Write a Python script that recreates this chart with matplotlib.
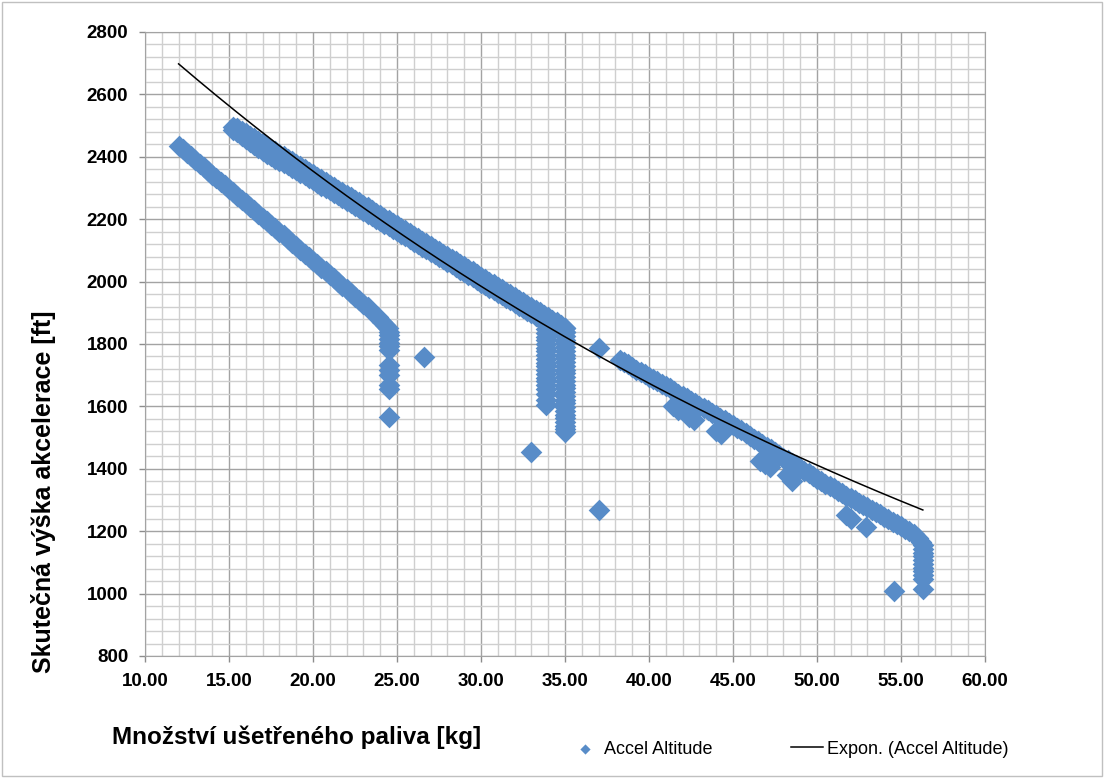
import numpy as np
import matplotlib
matplotlib.use("Agg")
import matplotlib.pyplot as plt
from matplotlib.ticker import MultipleLocator, FormatStrFormatter
from matplotlib.patches import Rectangle

plt.rcParams['font.family'] = ['Liberation Sans', 'DejaVu Sans']

# lower band (left)
lower_x = [12.00, 12.25, 12.50, 12.75, 13.00, 13.25, 13.50, 13.75, 14.00, 14.25, 14.50, 14.75,
           15.00, 15.25, 15.50, 15.75, 16.00, 16.25, 16.50, 16.75, 17.00, 17.25, 17.50, 17.75,
           18.00, 18.25, 18.50, 18.75, 19.00, 19.25, 19.50, 19.75, 20.00, 20.25, 20.50, 20.75,
           21.00, 21.25, 21.50, 21.75, 22.00, 22.25, 22.50, 22.75, 23.00, 23.25, 23.60, 23.85,
           24.10, 24.30, 24.45]
lower_y = [2435, 2424, 2412, 2401, 2390, 2378, 2366, 2355, 2343, 2332, 2320, 2309,
           2297, 2286, 2274, 2263, 2251, 2240, 2228, 2217, 2205, 2194, 2182, 2171,
           2159, 2148, 2136, 2125, 2113, 2102, 2090, 2079, 2067, 2056, 2044, 2033,
           2021, 2010, 1998, 1987, 1975, 1964, 1952, 1941, 1929, 1918, 1898, 1885,
           1872, 1860, 1850]
# drop at ~24.55 kg
col24_y = [1840, 1828, 1816, 1804, 1792, 1780, 1733, 1716, 1700, 1670, 1655, 1566]

# upper band, two rows of points
upper_x = [15.25, 15.50, 15.75, 16.00, 16.25, 16.50, 16.75, 17.00, 17.25, 17.50, 17.75, 18.00,
           18.25, 18.50, 18.75, 19.00, 19.25, 19.50, 19.75, 20.00, 20.25, 20.50, 20.75, 21.00,
           21.25, 21.50, 21.75, 22.00, 22.25, 22.50, 22.75, 23.00, 23.25, 23.50, 23.75, 24.00,
           24.25, 24.50, 24.75, 25.00, 25.25, 25.50, 25.75, 26.00, 26.25, 26.50, 26.75, 27.00,
           27.25, 27.50, 27.75, 28.00, 28.25, 28.50, 28.75, 29.00, 29.25, 29.50, 29.75, 30.00,
           30.25, 30.50, 30.75, 31.00, 31.25, 31.50, 31.75, 32.00, 32.25, 32.50, 32.75, 33.00,
           33.25, 33.50, 33.75, 34.00, 34.25, 34.50, 34.75, 35.00]
upper_top_y = [2497, 2492, 2484, 2475, 2467, 2459, 2451, 2443, 2434, 2426, 2418, 2410,
               2402, 2393, 2385, 2377, 2369, 2361, 2352, 2344, 2336, 2328, 2320, 2311,
               2303, 2295, 2287, 2279, 2270, 2262, 2254, 2246, 2238, 2229, 2221, 2213,
               2205, 2197, 2188, 2180, 2172, 2164, 2156, 2147, 2139, 2131, 2123, 2115,
               2106, 2098, 2090, 2082, 2074, 2065, 2057, 2049, 2041, 2033, 2024, 2016,
               2008, 2000, 1992, 1983, 1975, 1967, 1959, 1951, 1942, 1934, 1926, 1918,
               1910, 1901, 1893, 1885, 1877, 1869, 1860, 1852]
upper_bot_y = [2486, 2478, 2468, 2457, 2447, 2437, 2428, 2419, 2410, 2402, 2394, 2388,
               2381, 2373, 2365, 2357, 2349, 2341, 2333, 2325, 2316, 2308, 2300, 2292,
               2284, 2276, 2267, 2259, 2251, 2243, 2235, 2227, 2218, 2210, 2202, 2194,
               2186, 2178, 2169, 2161, 2153, 2145, 2137, 2128, 2120, 2112, 2104, 2096,
               2087, 2079, 2071, 2063, 2055, 2046, 2038, 2030, 2022, 2014, 2005, 1997,
               1989, 1981, 1973, 1964, 1956, 1948, 1940, 1932, 1923, 1915, 1907, 1899,
               1891, 1882, 1874, 1866, 1860, 1852, 1846, 1840]

# vertical drops at ~33.9 and ~35.0 kg
col34_y = [1860, 1848, 1836, 1824, 1812, 1800, 1788, 1776, 1764, 1752, 1740, 1728, 1716,
           1704, 1692, 1680, 1668, 1656, 1640, 1622, 1605]
col35_y = [1850, 1838, 1826, 1814, 1802, 1790, 1778, 1766, 1754, 1742, 1730, 1718, 1706,
           1694, 1682, 1670, 1658, 1646, 1634, 1622, 1610, 1598, 1586, 1574, 1562, 1550,
           1538, 1526, 1518]

# right band
right_x = [38.25, 38.50, 38.75, 39.00, 39.25, 39.50, 39.75, 40.00, 40.25, 40.50, 40.75, 41.00,
           41.25, 41.50, 41.75, 42.00, 42.25, 42.50, 42.75, 43.00, 43.25, 43.50, 43.75, 44.00,
           44.25, 44.50, 44.75, 45.00, 45.25, 45.50, 45.75, 46.00, 46.25, 46.50, 46.75, 47.00,
           47.25, 47.50, 47.75, 48.00, 48.25, 48.50, 48.75, 49.00, 49.25, 49.50, 49.75, 50.00,
           50.25, 50.50, 50.75, 51.00, 51.25, 51.50, 51.75, 52.00, 52.25, 52.50, 52.75, 53.00,
           53.25, 53.50, 53.75, 54.00, 54.25, 54.50, 54.75, 55.00, 55.25, 55.50, 55.75, 56.00,
           56.20]
right_y = [1750, 1742, 1735, 1726, 1718, 1710, 1703, 1695, 1688, 1680, 1673, 1665,
           1658, 1650, 1641, 1633, 1626, 1618, 1610, 1602, 1595, 1587, 1579, 1571,
           1564, 1556, 1548, 1540, 1531, 1523, 1514, 1505, 1497, 1488, 1479, 1470,
           1462, 1453, 1445, 1436, 1428, 1419, 1411, 1402, 1394, 1385, 1377, 1368,
           1360, 1352, 1345, 1337, 1329, 1321, 1314, 1306, 1299, 1291, 1284, 1276,
           1269, 1261, 1254, 1246, 1239, 1231, 1224, 1216, 1208, 1200, 1190, 1178,
           1165]
right_low_x = [41.4, 41.7, 42.4, 42.7, 44.0, 44.3, 46.6, 46.9, 47.2, 48.2, 48.5, 51.7, 52.0, 52.9]
right_low_y = [1600, 1590, 1565, 1555, 1522, 1510, 1425, 1415, 1405, 1380, 1362, 1252, 1240, 1213]
# drop at ~56.3 kg
col56_y = [1155, 1143, 1131, 1119, 1107, 1095, 1083, 1071, 1059, 1047, 1015]

# single outliers
out_x = [26.6, 33.0, 37.0, 37.0, 54.6]
out_y = [1757, 1455, 1788, 1268, 1008]

# Excel exponential trendline y = a*exp(b*x)
trend_a = 3310
trend_b = -0.017042

xs = (lower_x + [24.55] * len(col24_y) + upper_x + upper_x + [33.85] * len(col34_y)
      + [35.0] * len(col35_y) + right_x + right_low_x + [56.3] * len(col56_y) + out_x)
ys = (lower_y + col24_y + upper_top_y + upper_bot_y + col34_y + col35_y
      + right_y + right_low_y + col56_y + out_y)
xs = np.array(xs)
ys = np.array(ys)

fig = plt.figure(figsize=(11.04, 7.78), dpi=100)
ax = fig.add_axes([145 / 1104, 122 / 778, 840 / 1104, 624 / 778])

ax.scatter(xs, ys, marker='D', s=122, color='#588cc8', linewidths=0, zorder=3,
           label='Accel Altitude')

tx = np.linspace(xs.min(), xs.max(), 200)
ax.plot(tx, trend_a * np.exp(trend_b * tx), color='black', lw=1.1, zorder=4,
        label='Expon. (Accel Altitude)')

ax.set_xlim(10, 60)
ax.set_ylim(800, 2800)
ax.xaxis.set_major_locator(MultipleLocator(5))
ax.xaxis.set_minor_locator(MultipleLocator(1))
ax.yaxis.set_major_locator(MultipleLocator(200))
ax.yaxis.set_minor_locator(MultipleLocator(40))
ax.xaxis.set_major_formatter(FormatStrFormatter('%.2f'))

ax.grid(which='major', color='#a3a3a3', lw=1.0, zorder=0)
ax.grid(which='minor', color='#cfcfcf', lw=1.0, zorder=0)
ax.set_axisbelow(True)

for s in ax.spines.values():
    s.set_color('#a3a3a3')
ax.tick_params(which='major', length=4, width=1, color='#8c8c8c', pad=8, labelsize=13.5)
ax.tick_params(which='minor', length=0)
for lab in ax.get_xticklabels() + ax.get_yticklabels():
    lab.set_fontweight('bold')

ax.set_ylabel('Skutečná výška akcelerace [ft]', fontsize=18, fontweight='bold')
ax.yaxis.set_label_coords(-0.106, 0.264)
ax.set_xlabel('Množství ušetřeného paliva [kg]', fontsize=17.5, fontweight='bold')
ax.xaxis.set_label_coords(0.181, -0.112)

fig.legend(loc='center left', bbox_to_anchor=(552 / 1104, 1 - 749 / 778), ncol=2,
           frameon=False, fontsize=13, markerscale=0.47, handlelength=1.8,
           handletextpad=0.2, columnspacing=4.3)

# light chart-area border
fig.patches.append(Rectangle((0.002, 0.002), 0.996, 0.996, transform=fig.transFigure,
                             fill=False, edgecolor='#c0c0c0', lw=1))

fig.savefig('out.png', dpi=100)
